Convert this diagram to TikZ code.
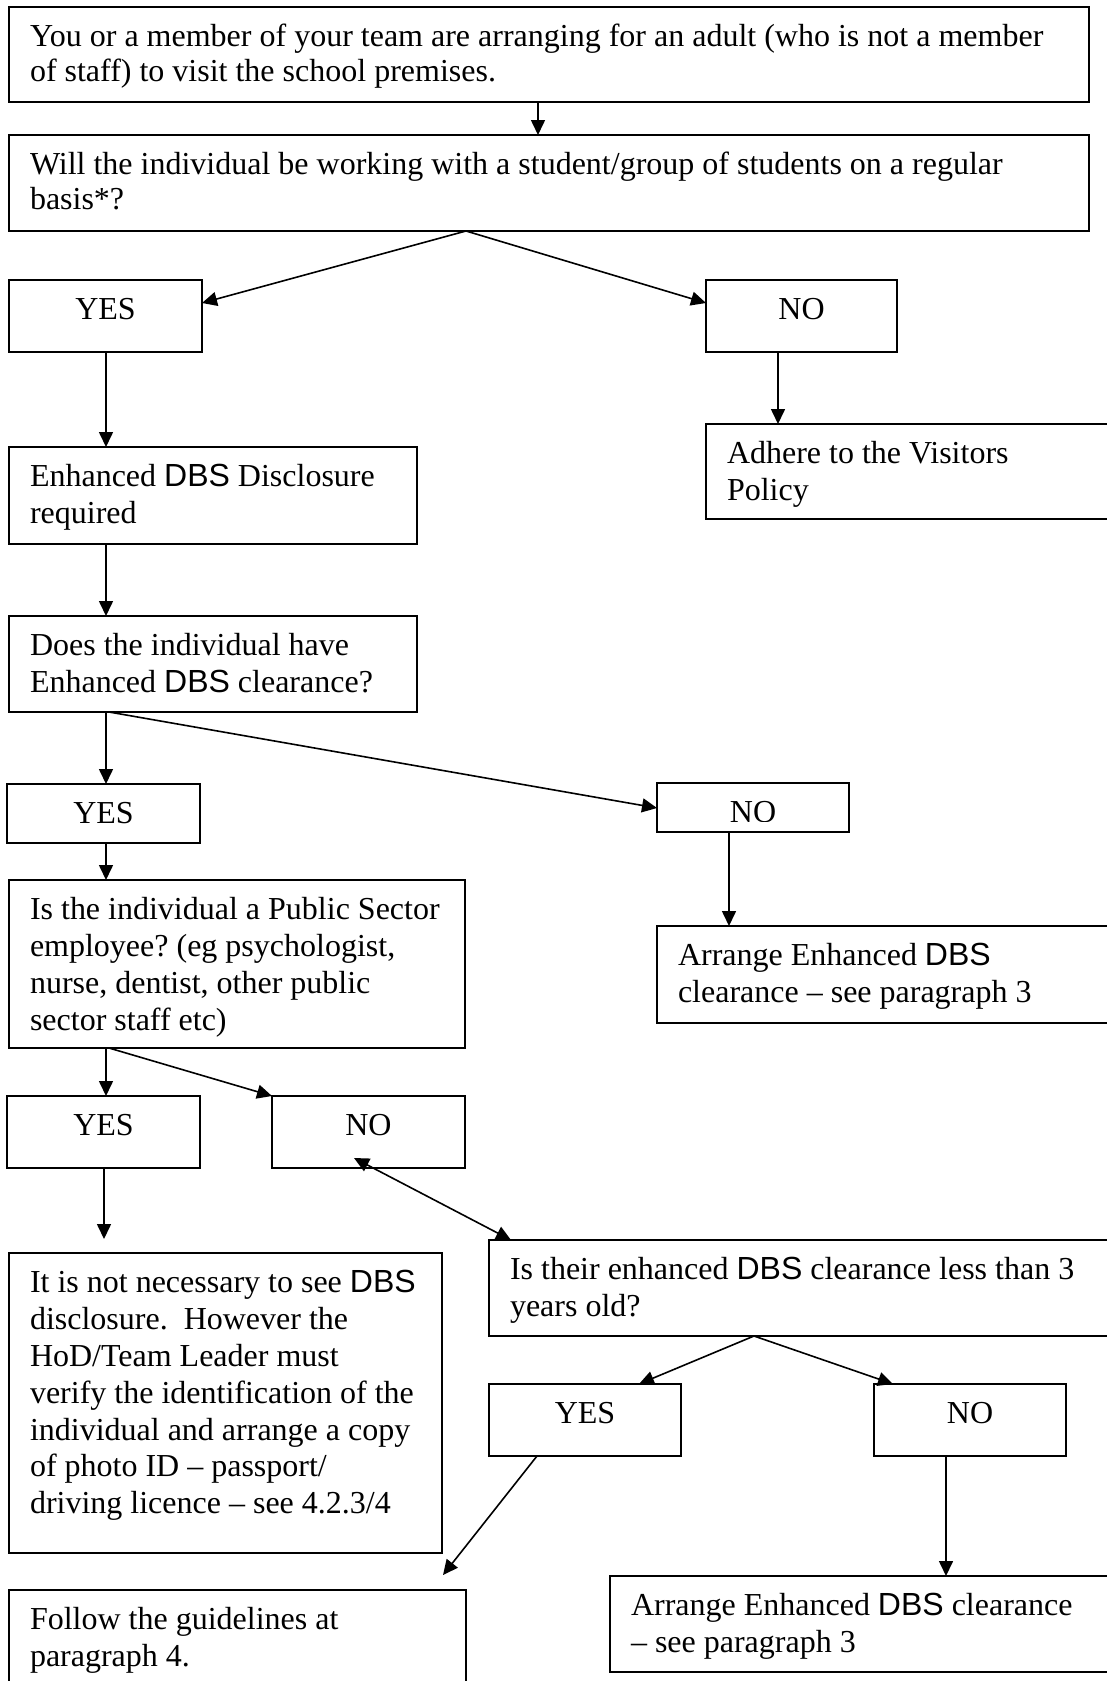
\documentclass[tikz,border=0pt]{standalone}
\usepackage{fontspec}
\setmainfont{Liberation Serif}
\newfontfamily\dbsfont{Liberation Sans}
\usetikzlibrary{arrows.meta,calc}
\frenchspacing
\newcommand{\dbsword}{{\dbsfont\fontsize{32}{36.8}\selectfont DBS}}
\newcommand{\boxtext}[3]{\parbox[c][#2][t]{#1}{\fontsize{32}{36.8}\selectfont\raggedright\vspace*{14.2pt}\strut #3}}
\newcommand{\boxtextnarrow}[3]{\parbox[c][#2][t]{#1}{\fontsize{32}{35}\selectfont\raggedright\vspace*{15.2pt}\strut #3}}
\newcommand{\ctrtext}[3]{\parbox[c][#2][t]{#1}{\fontsize{32}{36.8}\selectfont\centering\vspace*{14.2pt}\strut #3}}
\tikzset{
  >={Triangle[length=15pt,width=14pt]},
  box/.style={draw, line width=2pt, anchor=north west, inner xsep=21pt, inner ysep=0pt, outer sep=0pt},
  yn/.style={draw, line width=2pt, anchor=north west, inner sep=0pt, outer sep=0pt},
  conn/.style={->, line width=1.6pt},
  conn2/.style={<->, line width=1.6pt}
}
\begin{document}
\begin{tikzpicture}[x=1pt,y=-1pt]
\useasboundingbox (0,0) rectangle (1107,1681);
\clip (0,0) rectangle (1107,1681);
% boxes
\node[box] (b1) at (9,7) {\boxtextnarrow{1038pt}{95pt}{You or a member of your team are arranging for an adult (who is not a member\\ of staff) to visit the school premises.}};
\node[box] (b2) at (9,135) {\boxtextnarrow{1038pt}{96pt}{Will the individual be working with a student/group of students on a regular\\ basis*?}};
\node[yn] (yes1) at (9,280) {\ctrtext{193pt}{72pt}{YES}};
\node[yn] (no1) at (706,280) {\ctrtext{191pt}{72pt}{NO}};
\node[box] (enh) at (9,447) {\boxtext{366pt}{97pt}{Enhanced \dbsword{} Disclosure\\ required}};
\node[box] (adh) at (706,424) {\boxtext{372pt}{95pt}{Adhere to the Visitors\\ Policy}};
\node[box] (does) at (9,616) {\boxtext{366pt}{96pt}{Does the individual have\\ Enhanced \dbsword{} clearance?}};
\node[yn] (yes2) at (7,784) {\ctrtext{193pt}{59pt}{YES}};
\node[yn, minimum width=192pt, minimum height=49pt] (no2) at (657,783) {};
\begin{scope}
  \clip (no2.north west) rectangle ($(no2.south east)+(0,-11)$);
  \node[anchor=north west, inner sep=0pt, outer sep=0pt] (no2t) at (no2.north west) {\ctrtext{192pt}{49pt}{NO}};
\end{scope}
\node[box] (pub) at (9,880) {\boxtext{414pt}{168pt}{Is the individual a Public Sector\\ employee? (eg psychologist,\\ nurse, dentist, other public\\ sector staff etc)}};
\node[box] (arr1) at (657,926) {\boxtext{421pt}{97pt}{Arrange Enhanced \dbsword\\ clearance -- see paragraph 3}};
\node[yn] (yes3) at (7,1096) {\ctrtext{193pt}{72pt}{YES}};
\node[yn] (no3) at (272,1096) {\ctrtext{193pt}{72pt}{NO}};
\node[box] (nec) at (9,1253) {\boxtext{391pt}{300pt}{It is not necessary to see \dbsword\\ disclosure.\ \ However the\\ HoD/Team Leader must\\ verify the identification of the\\ individual and arrange a copy\\ of photo ID -- passport/\\ driving licence -- see 4.2.3/4}};
\node[box] (their) at (489,1240) {\boxtext{589pt}{96pt}{Is their enhanced \dbsword{} clearance less than 3\\ years old?}};
\node[yn] (yes4) at (489,1384) {\ctrtext{192pt}{72pt}{YES}};
\node[yn] (no4) at (874,1384) {\ctrtext{192pt}{72pt}{NO}};
\node[box] (fol) at (9,1590) {\boxtext{415pt}{120pt}{Follow the guidelines at\\ paragraph 4.}};
\node[box] (arr2) at (610,1576) {\boxtext{468pt}{96pt}{Arrange Enhanced \dbsword{} clearance\\ -- see paragraph 3}};
% free ends
\coordinate (yes3end) at (104,1239);
\coordinate (yes4end) at (443,1575);
% connectors
\draw[conn] ($(b1.south west)+(529,0)$) -- ($(b2.north west)+(529,0)$);
\draw[conn] ($(b2.south west)+(457,0)$) -- ($(yes1.north east)+(0,23)$);
\draw[conn] ($(b2.south west)+(457,0)$) -- ($(no1.north west)+(0,23)$);
\draw[conn] ($(yes1.south west)+(97,0)$) -- ($(enh.north west)+(97,0)$);
\draw[conn] ($(no1.south west)+(72,0)$) -- ($(adh.north west)+(72,0)$);
\draw[conn] ($(enh.south west)+(97,0)$) -- ($(does.north west)+(97,0)$);
\draw[conn] ($(does.south west)+(97,0)$) -- ($(yes2.north west)+(99,0)$);
\draw[conn] ($(does.south west)+(100,0)$) -- ($(no2.north west)+(0,25)$);
\draw[conn] ($(yes2.south west)+(99,0)$) -- ($(pub.north west)+(97,0)$);
\draw[conn] ($(no2.south west)+(72,0)$) -- ($(arr1.north west)+(72,0)$);
\draw[conn] ($(pub.south west)+(97,0)$) -- ($(yes3.north west)+(99,0)$);
\draw[conn] ($(pub.south west)+(100,0)$) -- (no3.north west);
\draw[conn] ($(yes3.south west)+(97,0)$) -- (yes3end);
\draw[conn2] ($(no3.south west)+(82,-10)$) -- ($(their.north west)+(22,0)$);
\draw[conn] ($(their.south west)+(265,0)$) -- ($(yes4.north west)+(150,0)$);
\draw[conn] ($(their.south west)+(265,0)$) -- ($(no4.north west)+(19,0)$);
\draw[conn] ($(yes4.south west)+(48,0)$) -- (yes4end);
\draw[conn] ($(no4.south west)+(72,0)$) -- ($(arr2.north west)+(336,0)$);
\end{tikzpicture}
\end{document}
